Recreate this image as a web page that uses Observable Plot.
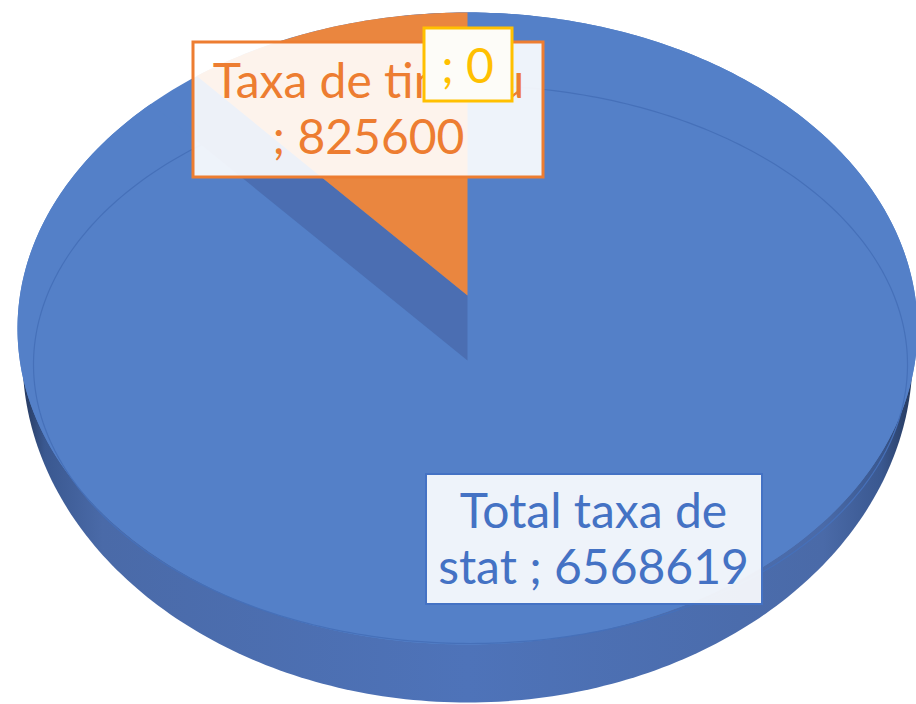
<!DOCTYPE html>
<html>
<head>
<meta charset="utf-8">
<script src="https://cdn.jsdelivr.net/npm/d3@7"></script>
<script src="https://cdn.jsdelivr.net/npm/@observablehq/plot@0.6"></script>
<style>
  html, body { margin: 0; padding: 0; background: #ffffff; }
  #chart { width: 916px; height: 704px; overflow: hidden; }
</style>
</head>
<body>
<div id="chart"></div>
<script>
// ---------- data ----------
const categories = ["Total taxa de stat", "Taxa de timbru", ""];
const values = [6568619, 825600, 0];
const sliceColors = ["#5480C8", "#EA863F", "#FFC000"];
const labelColors = ["#4472C4", "#ED7D31", "#FFC000"];
const exploded = [false, true, false];

// ---------- layout (3-D pie geometry & label placement) ----------
const W = 916, H = 704;
const pieCenter = {x: 467, y: 360};
const topFace = {cx: 467, cy: 328, rx: 450, ry: 316};
const bottomEdge = {cx: 467, cy: 357, rx: 445, ry: 345};
const rimLine = {cx: 470, cy: 364, rx: 437, ry: 279};
const tilt = 0.685;
const explodeOffset = {dx: 0, dy: -65};
const exposedWallColor = "#4B6EB2";
const fontSize = 48;
const labelLayout = [
  {x1: 426, x2: 762, y1: 474, y2: 604, cx: 593, base: 527, gap: 56, breakAfter: 3, sw: 2, fill: "#ffffff", fillOpacity: 0.9},
  {x1: 193, x2: 543, y1: 42, y2: 177, cx: 368, base: 97, gap: 56, breakAfter: 3, sw: 3, fill: "#ffffff", fillOpacity: 0.9},
  {x1: 424, x2: 512, y1: 28, y2: 101, cx: 467, base: 82, gap: 56, breakAfter: null, sw: 3, fill: "#fdfcf8", fillOpacity: 1}
];

// ---------- geometry helpers ----------
function dir(theta) { return [Math.sin(theta), -tilt * Math.cos(theta)]; }
function hit(p, d, e) {
  const ax = d[0] / e.rx, ay = d[1] / e.ry;
  const px = (p.x - e.cx) / e.rx, py = (p.y - e.cy) / e.ry;
  const A = ax * ax + ay * ay, B = 2 * (px * ax + py * ay), C = px * px + py * py - 1;
  const t = (-B + Math.sqrt(B * B - 4 * A * C)) / (2 * A);
  return [p.x + t * d[0], p.y + t * d[1]];
}
function wedge(apex, a0, a1) {
  const pts = [[apex.x, apex.y]];
  const n = Math.max(2, Math.ceil((a1 - a0) / (Math.PI / 360)));
  for (let i = 0; i <= n; i++) {
    const th = a0 + (a1 - a0) * i / n;
    pts.push(hit(apex, dir(th), topFace));
  }
  return pts;
}
function ellipsePts(e, n = 360) {
  const pts = [];
  for (let i = 0; i < n; i++) {
    const a = 2 * Math.PI * i / n;
    pts.push([e.cx + e.rx * Math.cos(a), e.cy + e.ry * Math.sin(a)]);
  }
  return pts;
}

const arcs = d3.pie().sort(null).startAngle(0).endAngle(2 * Math.PI)(values);

const xy = {x: d => d[0], y: d => d[1]};
const marks = [];

// side wall
marks.push(Plot.line(ellipsePts(bottomEdge), {...xy, fill: "url(#wallGrad)", stroke: "none", curve: "linear-closed"}));

// top face of the pie body (the space left by an exploded slice shows the body's surface)
marks.push(Plot.line(ellipsePts(topFace), {...xy, fill: sliceColors[0], stroke: "none", curve: "linear-closed"}));
arcs.forEach((a, i) => {
  if (a.endAngle - a.startAngle <= 0 || exploded[i]) return;
  marks.push(Plot.line(wedge(pieCenter, a.startAngle, a.endAngle), {...xy, fill: sliceColors[i], stroke: "none", curve: "linear-closed"}));
});
// bevel rim line
marks.push(Plot.line(ellipsePts(rimLine), {...xy, fill: "none", stroke: "#4670B9", strokeWidth: 1.2, curve: "linear-closed"}));
// exploded slices: exposed side wall, then the slice itself
arcs.forEach((a, i) => {
  if (a.endAngle - a.startAngle <= 0 || !exploded[i]) return;
  const apex = {x: pieCenter.x + explodeOffset.dx, y: pieCenter.y + explodeOffset.dy};
  const rim = hit(apex, dir(a.startAngle), topFace);
  const wall = [[apex.x, apex.y], rim, [rim[0] - explodeOffset.dx, rim[1] - explodeOffset.dy], [pieCenter.x, pieCenter.y]];
  marks.push(Plot.line(wall, {...xy, fill: exposedWallColor, stroke: "none", curve: "linear-closed"}));
  marks.push(Plot.line(wedge(apex, a.startAngle, a.endAngle), {...xy, fill: sliceColors[i], stroke: "none", curve: "linear-closed"}));
});

// data labels
[0, 1, 2].forEach(i => {
  const L = labelLayout[i];
  const txt = ((categories[i] ? categories[i] + " " : "") + "; " + values[i]);
  const words = txt.split(" ");
  const lines = L.breakAfter ? [words.slice(0, L.breakAfter).join(" "), words.slice(L.breakAfter).join(" ")] : [txt];
  marks.push(Plot.rect([L], {x1: "x1", x2: "x2", y1: "y1", y2: "y2", fill: L.fill, fillOpacity: L.fillOpacity,
    stroke: labelColors[i], strokeWidth: L.sw, ariaLabel: "labelbox"}));
  const rows = lines.map((t, k) => ({t, x: L.cx, y: L.base + k * L.gap - 0.32 * fontSize}));
  marks.push(Plot.text(rows, {x: "x", y: "y", text: "t", fill: labelColors[i], fontSize, fontFamily: "Lato", textAnchor: "middle"}));
});

const svg = Plot.plot({
  width: W, height: H, margin: 0,
  x: {domain: [0, W], range: [0, W], axis: null},
  y: {domain: [0, H], range: [0, H], axis: null},
  style: {background: "#ffffff"},
  marks
});

// gradient defs for the side wall
const ns = "http://www.w3.org/2000/svg";
const defs = document.createElementNS(ns, "defs");
const lg = document.createElementNS(ns, "linearGradient");
lg.setAttribute("id", "wallGrad");
lg.setAttribute("gradientUnits", "userSpaceOnUse");
lg.setAttribute("x1", 22); lg.setAttribute("x2", 912); lg.setAttribute("y1", 0); lg.setAttribute("y2", 0);
[[0, "#26395e"], [0.025, "#3a5890"], [0.09, "#4a6aa8"], [0.5, "#4e73b9"], [0.9, "#4a6aa8"], [0.965, "#3a5890"], [1, "#26395e"]].forEach(([o, c]) => {
  const s = document.createElementNS(ns, "stop");
  s.setAttribute("offset", o); s.setAttribute("stop-color", c);
  lg.appendChild(s);
});
defs.appendChild(lg);
svg.insertBefore(defs, svg.firstChild);
d3.select(svg).selectAll('g[aria-label="labelbox"]').style("filter", "drop-shadow(3px 4px 4px rgba(0,0,0,0.35))");

document.getElementById("chart").appendChild(svg);
</script>
</body>
</html>
